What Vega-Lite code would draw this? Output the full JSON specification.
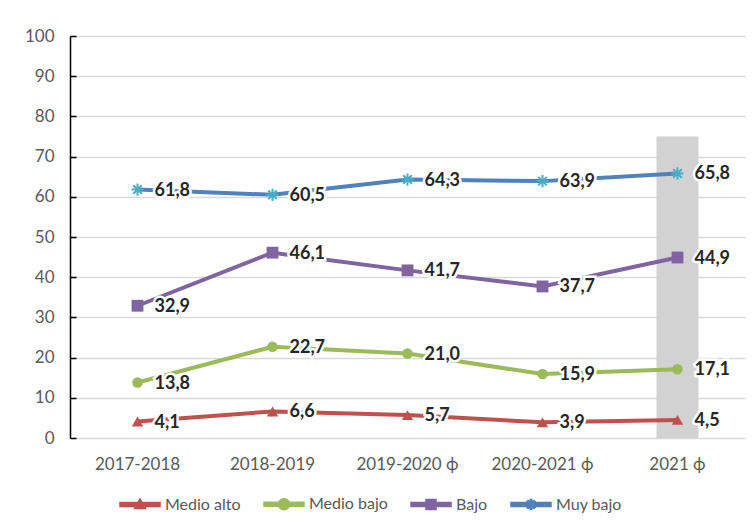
{
  "$schema": "https://vega.github.io/schema/vega-lite/v6.json",
  "autosize": "none",
  "width": 675,
  "height": 402,
  "padding": {"left": 70, "top": 36, "right": 9, "bottom": 93},
  "background": "white",
  "config": {
    "locale": {"number": {"decimal": ",", "thousands": ".", "grouping": [3], "currency": ["", " €"]}},
    "view": {"stroke": null},
    "font": "Lato",
    "axis": {"labelFont": "Lato", "labelFontSize": 17, "labelColor": "#595959", "titleFont": "Lato"},
    "legend": {"labelFont": "Lato", "labelFontSize": 16, "labelColor": "#595959"}
  },
  "datasets": {
    "series": [
      {"period": "2017-2018", "group": "Medio alto", "value": 4.1},
      {"period": "2018-2019", "group": "Medio alto", "value": 6.6},
      {"period": "2019-2020 ϕ", "group": "Medio alto", "value": 5.7},
      {"period": "2020-2021 ϕ", "group": "Medio alto", "value": 3.9},
      {"period": "2021 ϕ", "group": "Medio alto", "value": 4.5},
      {"period": "2017-2018", "group": "Medio bajo", "value": 13.8},
      {"period": "2018-2019", "group": "Medio bajo", "value": 22.7},
      {"period": "2019-2020 ϕ", "group": "Medio bajo", "value": 21.0},
      {"period": "2020-2021 ϕ", "group": "Medio bajo", "value": 15.9},
      {"period": "2021 ϕ", "group": "Medio bajo", "value": 17.1},
      {"period": "2017-2018", "group": "Bajo", "value": 32.9},
      {"period": "2018-2019", "group": "Bajo", "value": 46.1},
      {"period": "2019-2020 ϕ", "group": "Bajo", "value": 41.7},
      {"period": "2020-2021 ϕ", "group": "Bajo", "value": 37.7},
      {"period": "2021 ϕ", "group": "Bajo", "value": 44.9},
      {"period": "2017-2018", "group": "Muy bajo", "value": 61.8},
      {"period": "2018-2019", "group": "Muy bajo", "value": 60.5},
      {"period": "2019-2020 ϕ", "group": "Muy bajo", "value": 64.3},
      {"period": "2020-2021 ϕ", "group": "Muy bajo", "value": 63.9},
      {"period": "2021 ϕ", "group": "Muy bajo", "value": 65.8}
    ],
    "highlight": [{"period": "2021 ϕ", "top": 75}]
  },
  "encoding": {
    "x": {
      "field": "period", "type": "nominal",
      "sort": ["2017-2018", "2018-2019", "2019-2020 ϕ", "2020-2021 ϕ", "2021 ϕ"],
      "scale": {"type": "band", "paddingInner": 0, "paddingOuter": 0},
      "axis": {"title": null, "domain": false, "ticks": false, "labelAngle": 0, "labelPadding": 18, "grid": false}
    }
  },
  "layer": [
    {
      "data": {"name": "highlight"},
      "mark": {"type": "bar", "width": 42, "color": "#d2d2d2"},
      "encoding": {
        "y": {
          "field": "top", "type": "quantitative",
          "scale": {"domain": [0, 100]},
          "axis": {"title": null, "values": [0,10,20,30,40,50,60,70,80,90,100], "grid": true, "gridColor": "#d9d9d9", "gridWidth": 1.3, "domainColor": "black", "domainWidth": 1.5, "tickColor": "black", "tickWidth": 1.5, "tickSize": -6, "labelPadding": 22}
        }
      }
    },
    {
      "data": {"name": "series"},
      "mark": {"type": "line", "strokeWidth": 4},
      "encoding": {
        "y": {"field": "value", "type": "quantitative"},
        "color": {
          "field": "group", "type": "nominal",
          "scale": {"domain": ["Medio alto", "Medio bajo", "Bajo", "Muy bajo"], "range": ["#C0504D", "#9BBB59", "#8064A2", "#4F81BD"]},
          "legend": {
            "title": null, "orient": "none", "direction": "horizontal", "legendX": 47, "legendY": 460,
            "symbolSize": 100, "labelOffset": 32, "columnPadding": 20,
            "encode": {
              "symbols": {
                "update": {
                  "fill": {"scale": "color", "field": "value"},
                  "stroke": {"value": "transparent"},
                  "opacity": {"value": 1},
                  "shape": {"signal": "datum.value === 'Medio alto' ? 'M-1,-0.4L7,-0.4L7,0.4L-1,0.4Z M3,-1.1L4.1,0.8L1.9,0.8Z' : datum.value === 'Medio bajo' ? 'M-1,-0.4L7,-0.4L7,0.4L-1,0.4Z M4.1,0A1.1,1.1,0,1,1,1.9,0A1.1,1.1,0,1,1,4.1,0Z' : datum.value === 'Bajo' ? 'M-1,-0.4L7,-0.4L7,0.4L-1,0.4Z M2,-1L4,-1L4,1L2,1Z' : 'M-1,-0.4L7,-0.4L7,0.4L-1,0.4Z M2.85,-1L3.15,-1L3.15,1L2.85,1Z M2.406,-0.806L3.806,0.594L3.594,0.806L2.194,-0.594Z M3.806,-0.594L2.406,0.806L2.194,0.594L3.594,-0.806Z'"}
                }
              }
            }
          }
        }
      }
    },
    {
      "data": {"name": "series"},
      "transform": [{"filter": "datum.group === 'Medio alto'"}],
      "mark": {"type": "point", "shape": "triangle-up", "filled": true, "size": 130, "color": "#C0504D", "opacity": 1},
      "encoding": {"y": {"field": "value", "type": "quantitative"}}
    },
    {
      "data": {"name": "series"},
      "transform": [{"filter": "datum.group === 'Medio bajo'"}],
      "mark": {"type": "point", "shape": "circle", "filled": true, "size": 110, "color": "#9BBB59", "opacity": 1},
      "encoding": {"y": {"field": "value", "type": "quantitative"}}
    },
    {
      "data": {"name": "series"},
      "transform": [{"filter": "datum.group === 'Bajo'"}],
      "mark": {"type": "point", "shape": "square", "filled": true, "size": 140, "color": "#8064A2", "opacity": 1},
      "encoding": {"y": {"field": "value", "type": "quantitative"}}
    },
    {
      "data": {"name": "series"},
      "transform": [{"filter": "datum.group === 'Muy bajo'"}],
      "mark": {"type": "point", "shape": "M-1,0L1,0M0,-1L0,1M-0.7,-0.7L0.7,0.7M-0.7,0.7L0.7,-0.7", "filled": false, "size": 150, "color": "#4BACC6", "strokeWidth": 2, "opacity": 1},
      "encoding": {"y": {"field": "value", "type": "quantitative"}}
    },
    {
      "data": {"name": "series"},
      "mark": {"type": "text", "align": "left", "baseline": "middle", "dx": 17, "dy": 1, "fontSize": 18, "fontWeight": "bold", "font": "Lato", "color": "white", "stroke": "white", "strokeWidth": 5},
      "encoding": {
        "y": {"field": "value", "type": "quantitative"},
        "text": {"field": "value", "type": "quantitative", "format": ".1f"}
      }
    },
    {
      "data": {"name": "series"},
      "mark": {"type": "text", "align": "left", "baseline": "middle", "dx": 17, "dy": 1, "fontSize": 18, "fontWeight": "bold", "font": "Lato", "color": "#262626"},
      "encoding": {
        "y": {"field": "value", "type": "quantitative"},
        "text": {"field": "value", "type": "quantitative", "format": ".1f"}
      }
    }
  ]
}
